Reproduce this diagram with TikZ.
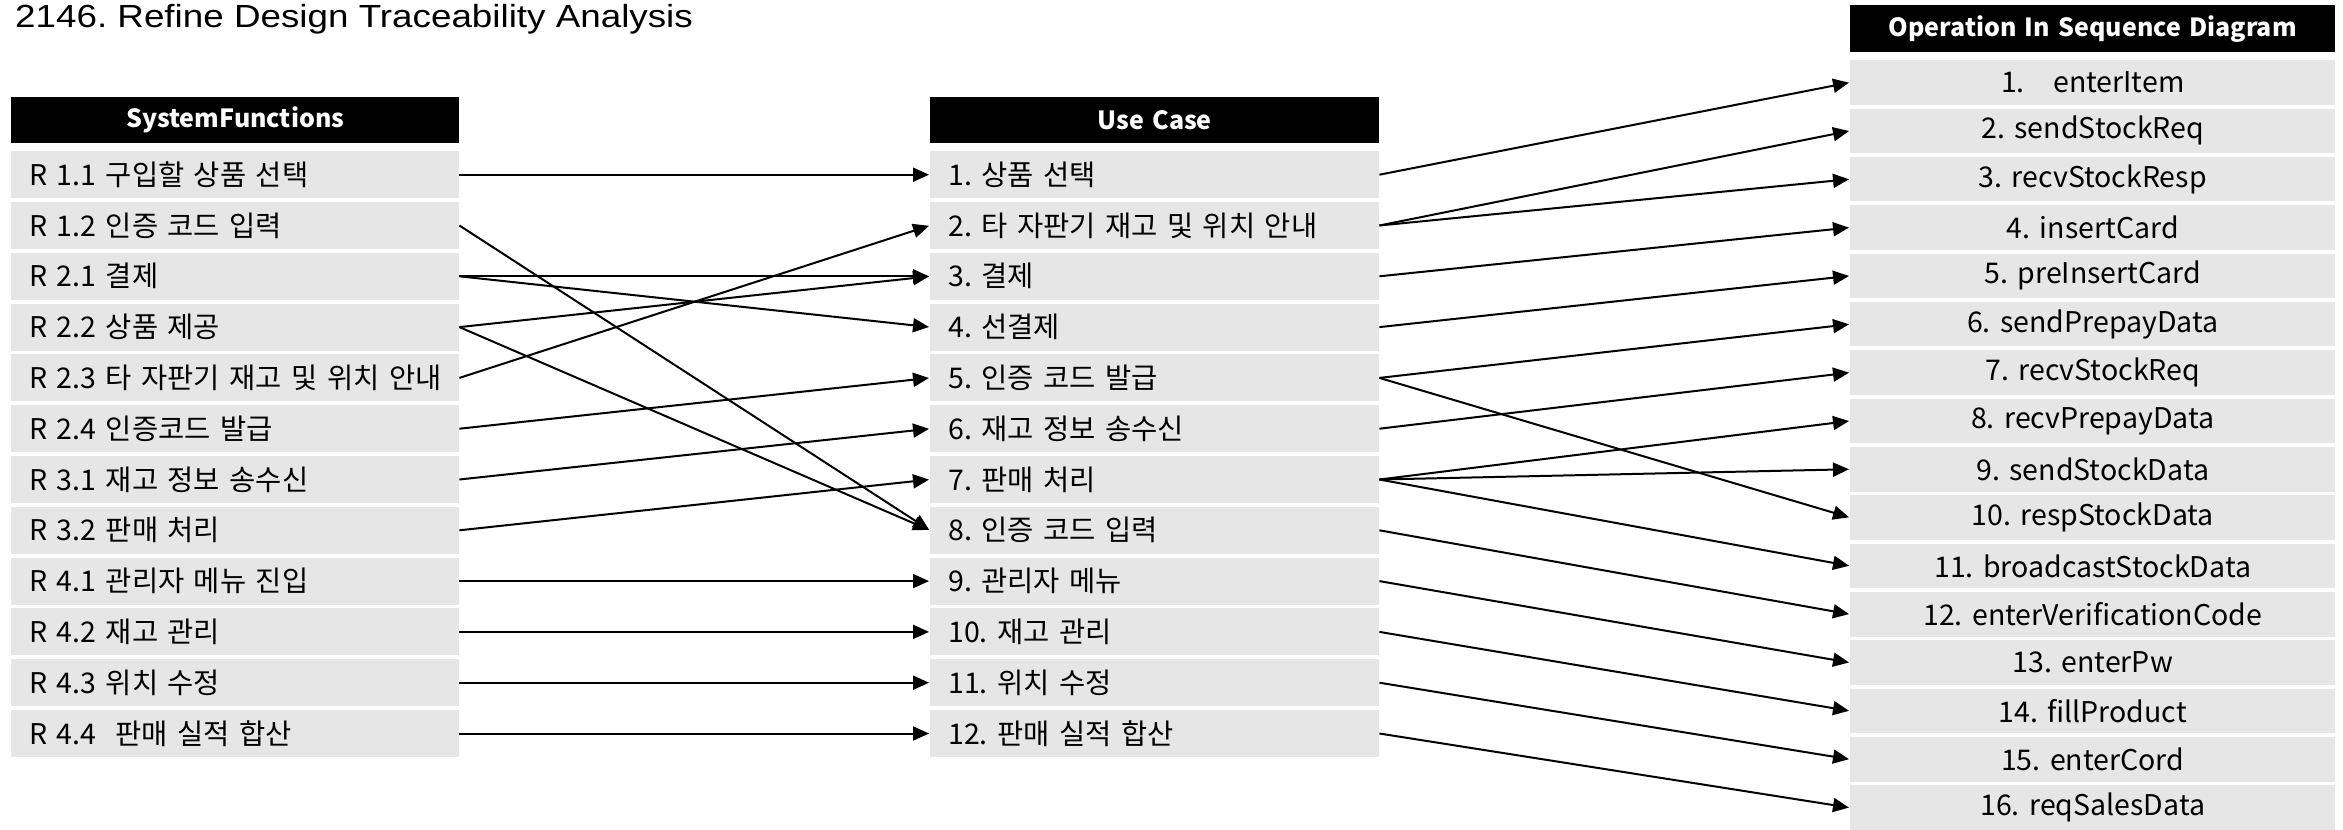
\documentclass[tikz,border=0pt]{standalone}
\usepackage{fontspec}
\setmainfont{Noto Sans CJK KR}
\newfontfamily\hdrfont{Noto Sans CJK KR}[WordSpace=0.55]
\newfontfamily\titlefont{Liberation Sans}
\usetikzlibrary{arrows.meta}
\definecolor{rowgray}{HTML}{E6E6E6}
\frenchspacing
\begin{document}
\frenchspacing
\begin{tikzpicture}[x=1pt,y=-1pt,
  hdr/.style={fill=black, text=white, font=\hdrfont\fontsize{25}{30}\selectfont\bfseries,
    minimum height=46pt, inner sep=0pt, anchor=north west, align=center},
  rowL/.style={fill=rowgray, minimum height=47pt, inner sep=0pt,
    text width=448pt, align=left, anchor=north west, font=\fontsize{28.5}{32}\selectfont},
  rowR/.style={fill=rowgray, minimum height=44.5pt, inner sep=0pt, text width=485pt,
    align=center, anchor=north west, font=\fontsize{28.5}{34}\selectfont},
  arr/.style={-{Triangle[length=16pt,width=14pt]}, line width=2pt, shorten >=1pt}]
\useasboundingbox (0,0) rectangle (2343,830);
\node[anchor=base west, inner sep=0pt, font=\titlefont\fontsize{32}{36}\selectfont] (title) at (15,27)
  {\scalebox{1.15}[1]{2146. Refine Design Traceability Analysis}};
% headers
\node[hdr, text width=448pt] (hsf) at (11,97) {SystemFunctions};
\node[hdr, text width=449pt] (huc) at (930,97) {Use Case};
\node[hdr, text width=485pt, minimum height=47pt] (hop) at (1850,5) {Operation In Sequence Diagram};
% left column
\foreach \i/\t in {1/{R 1.1 구입할 상품 선택},2/{R 1.2 인증 코드 입력},3/{R 2.1 결제},
  4/{R 2.2 상품 제공},5/{R 2.3 타 자판기 재고 및 위치 안내},6/{R 2.4 인증코드 발급},
  7/{R 3.1 재고 정보 송수신},8/{R 3.2 판매 처리},9/{R 4.1 관리자 메뉴 진입},
  10/{R 4.2 재고 관리},11/{R 4.3 위치 수정},12/{R 4.4\ \ 판매 실적 합산}}
  \node[rowL] (sf\i) at (11,{151+(\i-1)*50.8}) {\hspace*{18pt}\mbox{\t}};
% middle column
\foreach \i/\t in {1/{1. 상품 선택},2/{2. 타 자판기 재고 및 위치 안내},3/{3. 결제},
  4/{4. 선결제},5/{5. 인증 코드 발급},6/{6. 재고 정보 송수신},7/{7. 판매 처리},
  8/{8. 인증 코드 입력},9/{9. 관리자 메뉴},10/{10. 재고 관리},11/{11. 위치 수정},
  12/{12. 판매 실적 합산}}
  \node[rowL, text width=449pt] (uc\i) at (930,{151+(\i-1)*50.8}) {\hspace*{18pt}\mbox{\t}};
% right column
\foreach \i/\t in {1/{1.\ \ \ enterItem},2/{2. sendStockReq},3/{3. recvStockResp},
  4/{4. insertCard},5/{5. preInsertCard},6/{6. sendPrepayData},7/{7. recvStockReq},
  8/{8. recvPrepayData},9/{9. sendStockData},10/{10. respStockData},
  11/{11. broadcastStockData},12/{12. enterVerificationCode},13/{13. enterPw},
  14/{14. fillProduct},15/{15. enterCord},16/{16. reqSalesData}}
  \node[rowR] (op\i) at (1850,{60+(\i-1)*48.35}) {\t};
% connectors left -> middle
\foreach \a/\b in {1/1,2/8,3/3,3/4,4/3,4/8,5/2,6/5,7/6,8/7,9/9,10/10,11/11,12/12}
  \draw[arr] (sf\a.east) -- (uc\b.west);
% connectors middle -> right
\foreach \a/\b in {1/1,2/2,2/3,3/4,4/5,5/6,5/10,6/7,7/8,7/9,7/11,8/12,9/13,10/14,11/15,12/16}
  \draw[arr] (uc\a.east) -- (op\b.west);
\end{tikzpicture}
\end{document}
